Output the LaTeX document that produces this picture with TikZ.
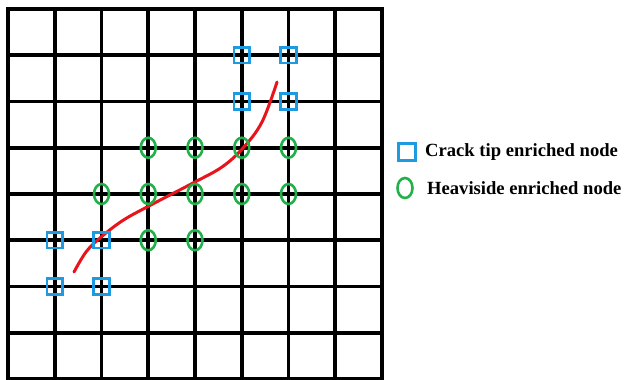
\documentclass[tikz,border=0pt]{standalone}
\usepackage{fontspec}
\setmainfont{Liberation Serif}
\usetikzlibrary{shapes.geometric}
\definecolor{tipblue}{HTML}{1E9BE0}
\definecolor{hgreen}{HTML}{22B04A}
\definecolor{crackred}{HTML}{E8141C}
\begin{document}
\begin{tikzpicture}[x=1pt,y=-1pt,
  gridline/.style={line width=3.6pt,black},
  tipnode/.style={draw=tipblue,line width=2.6pt,minimum size=15.5pt,inner sep=0pt,fill=none},
  hvnode/.style={draw=hgreen,line width=2.6pt,ellipse,minimum width=15pt,minimum height=20pt,inner sep=0pt},
  legendtext/.style={anchor=west,font=\fontsize{18.6}{20}\selectfont\bfseries,inner sep=0pt}]
\useasboundingbox (0,0) rectangle (625,380);
\fill[white] (0,0) rectangle (625,380);
% grid
\foreach \i in {0,...,8}{
  \draw[gridline] ({8+46.75*\i},7.2) -- ({8+46.75*\i},381);
  \draw[gridline] (6.2,{9+46.25*\i}) -- (383.8,{9+46.25*\i});
}
% crack
\draw[crackred,line width=3pt,line cap=round] plot[smooth,tension=0.6] coordinates
  {(74,272) (86,252) (100,238) (122,221) (147,207) (193,183) (222,167) (243,148) (262,122) (277,82)};
% crack tip enriched nodes
\foreach \i/\j [count=\k] in {5/1,6/1,5/2,6/2,1/5,2/5,1/6,2/6}
  \node[tipnode] (t\k) at ({8+46.75*\i},{9+46.25*\j}) {};
% heaviside enriched nodes
\foreach \i/\j [count=\k] in {3/3,4/3,5/3,6/3,2/4,3/4,4/4,5/4,6/4,3/5,4/5}
  \node[hvnode] (h\k) at ({8+46.75*\i},{9+46.25*\j}) {};
% legend
\node[tipnode,minimum size=16.5pt] (lt) at (407,152) {};
\node[hvnode,minimum width=15pt,minimum height=20pt] (lh) at (405,188) {};
\node[legendtext] (ltt) at (425,152) {Crack tip enriched node};
\node[legendtext] (lht) at (427,188) {Heaviside enriched node};
\end{tikzpicture}
\end{document}
